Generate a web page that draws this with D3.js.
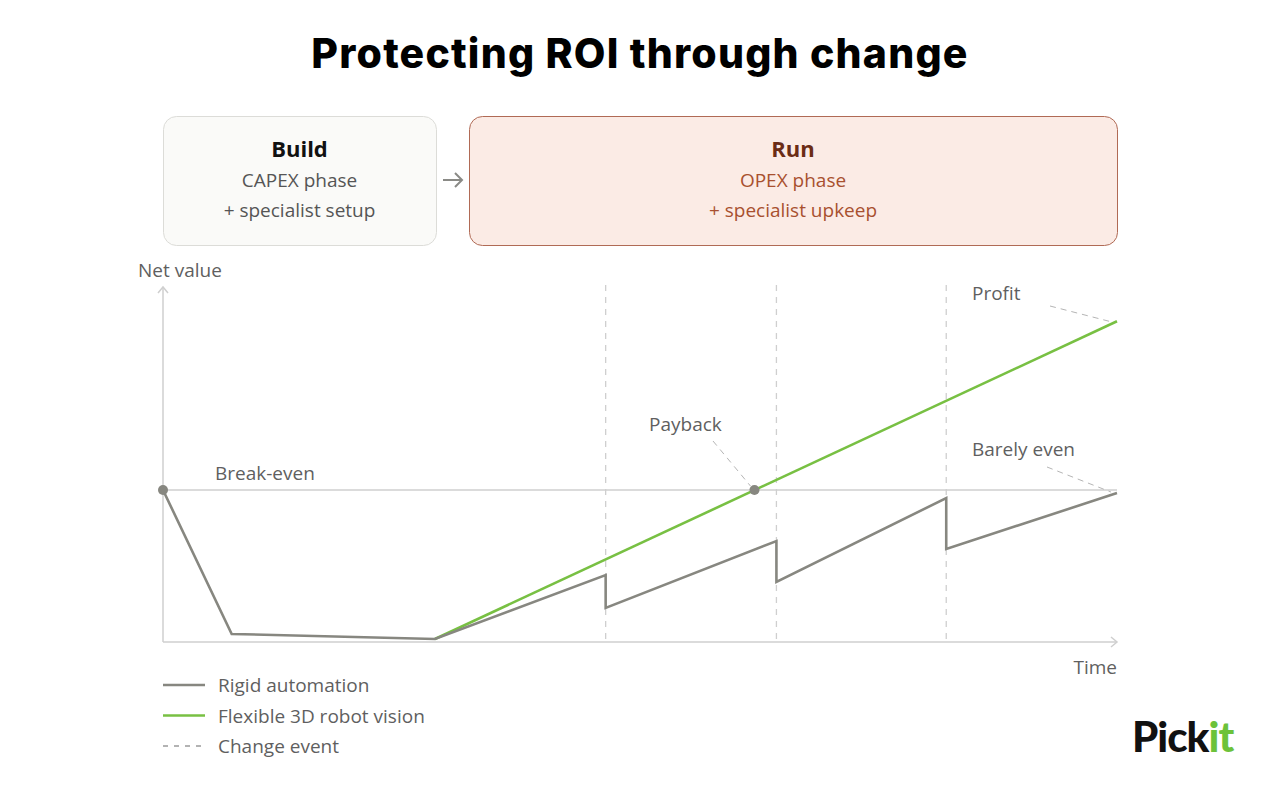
<!DOCTYPE html>
<html>
<head>
<meta charset="utf-8">
<script src="https://cdn.jsdelivr.net/npm/d3@7"></script>
<style>
  body { margin: 0; background: #fff; }
  svg { display: block; font-family: "Open Sans", "Noto Sans", sans-serif; }
</style>
</head>
<body>
<div id="chart"></div>
<script>
//********************* DATA ************************************

var rigidT = [0, 7.2, 28.5, 46.4, 46.4, 64.3, 64.3, 82.1, 82.1, 100];
var rigidV = [0, -94.7, -98, -56, -77.6, -33.6, -60.5, -5.3, -38.8, -2];
var flexT = [28.5, 100];
var flexV = [-98, 111];
var changeEvents = [46.4, 64.3, 82.1];
var paybackT = 62;
var legendLabels = ["Rigid automation", "Flexible 3D robot vision", "Change event"];

//********************* DIMENSIONS ************************************

var width = 1280, height = 790;
var plot = {left: 163, right: 1117, top: 287, bottom: 642};

var svg = d3.select("#chart").append("svg")
    .attr("width", width)
    .attr("height", height);

var x = d3.scaleLinear().domain([0, 100]).range([plot.left, plot.right]);
var y = d3.scaleLinear().domain([-100, 0]).range([plot.bottom, 490]);

var grey = "#878780", green = "#78c043", light = "#cfcfcf", txt = "#5f5f5f";

//********************* TITLE ************************************

svg.append("text")
    .attr("x", 640).attr("y", 68)
    .attr("text-anchor", "middle")
    .style("font-family", "Inter, Lato, sans-serif")
    .style("font-weight", 800)
    .style("font-size", "41px")
    .style("letter-spacing", "1.2px")
    .attr("fill", "#000")
    .text("Protecting ROI through change");

//********************* PHASE BOXES ************************************

var boxes = [
  {x0: 163, x1: 436, fill: "#fafaf8", stroke: "#dcdcd8", head: "Build", c1: "#111", c2: "#555",
   lines: ["CAPEX phase", "+ specialist setup"]},
  {x0: 469, x1: 1117, fill: "#fbebe5", stroke: "#b06a55", head: "Run", c1: "#6b2c15", c2: "#a8502f",
   lines: ["OPEX phase", "+ specialist upkeep"]}
];

boxes.forEach(function(b) {
  svg.append("rect")
      .attr("x", b.x0 + 0.5).attr("y", 116.5)
      .attr("width", b.x1 - b.x0).attr("height", 129)
      .attr("rx", 13)
      .attr("fill", b.fill)
      .attr("stroke", b.stroke)
      .attr("stroke-width", 1);
  var cx = (b.x0 + b.x1) / 2;
  svg.append("text")
      .attr("x", cx).attr("y", 157)
      .attr("text-anchor", "middle")
      .style("font-weight", 700).style("font-size", "22px")
      .attr("fill", b.c1)
      .text(b.head);
  b.lines.forEach(function(l, i) {
    svg.append("text")
        .attr("x", cx).attr("y", 187 + i * 30)
        .attr("text-anchor", "middle")
        .style("font-size", "19px")
        .attr("fill", b.c2)
        .text(l);
  });
});

// arrow between boxes
svg.append("path")
    .attr("d", "M443,180H462M455,173L462,180L455,187")
    .attr("fill", "none")
    .attr("stroke", "#8a8a86")
    .attr("stroke-width", 2);

//********************* AXES ************************************

svg.append("line")
    .attr("x1", plot.left).attr("x2", plot.left)
    .attr("y1", plot.bottom).attr("y2", plot.top)
    .attr("stroke", light).attr("stroke-width", 1.5);
svg.append("path")
    .attr("d", "M" + (plot.left - 5) + "," + (plot.top + 6) + "L" + plot.left + "," + plot.top + "L" + (plot.left + 5) + "," + (plot.top + 6))
    .attr("fill", "none").attr("stroke", light).attr("stroke-width", 1.5);

svg.append("line")
    .attr("x1", plot.left).attr("x2", plot.right)
    .attr("y1", plot.bottom).attr("y2", plot.bottom)
    .attr("stroke", light).attr("stroke-width", 1.5);
svg.append("path")
    .attr("d", "M" + (plot.right - 6) + "," + (plot.bottom - 5) + "L" + plot.right + "," + plot.bottom + "L" + (plot.right - 6) + "," + (plot.bottom + 5))
    .attr("fill", "none").attr("stroke", light).attr("stroke-width", 1.5);

// break-even line
svg.append("line")
    .attr("x1", plot.left).attr("x2", plot.right)
    .attr("y1", y(0)).attr("y2", y(0))
    .attr("stroke", light).attr("stroke-width", 1.5);

// change events
svg.selectAll(".event")
    .data(changeEvents)
  .enter().append("line")
    .attr("class", "event")
    .attr("x1", function(d) { return x(d); })
    .attr("x2", function(d) { return x(d); })
    .attr("y1", 285).attr("y2", plot.bottom)
    .attr("stroke", light).attr("stroke-width", 1.3)
    .attr("stroke-dasharray", "6,6");

svg.append("text")
    .attr("x", 138).attr("y", 277)
    .style("font-size", "19px").attr("fill", txt)
    .text("Net value");
svg.append("text")
    .attr("x", 1117).attr("y", 674)
    .attr("text-anchor", "end")
    .style("font-size", "19px").attr("fill", txt)
    .text("Time");

//********************* LINES ************************************

var valueline = d3.line()
    .x(function(d) { return x(d[0]); })
    .y(function(d) { return y(d[1]); });

svg.append("path")
    .datum(d3.zip(flexT, flexV))
    .attr("d", valueline)
    .attr("fill", "none")
    .attr("stroke", green)
    .attr("stroke-width", 2.6);

svg.append("path")
    .datum(d3.zip(rigidT, rigidV))
    .attr("d", valueline)
    .attr("fill", "none")
    .attr("stroke", grey)
    .attr("stroke-width", 2.6)
    .attr("stroke-linejoin", "miter");

// dots
svg.append("circle").attr("cx", x(0)).attr("cy", y(0)).attr("r", 5).attr("fill", grey);
svg.append("circle").attr("cx", x(paybackT)).attr("cy", y(0)).attr("r", 5).attr("fill", grey);

//********************* ANNOTATIONS ************************************

svg.append("text")
    .attr("x", 215).attr("y", 480)
    .style("font-size", "19px").attr("fill", txt)
    .text("Break-even");

var notes = [
  {label: "Payback", tx: 649, ty: 431, x1: 713, y1: 441, x2: x(paybackT) - 4, y2: y(0) - 4},
  {label: "Profit", tx: 972, ty: 300, x1: 1050, y1: 306, x2: x(100) - 4, y2: y(flexV[1]) + 1},
  {label: "Barely even", tx: 972, ty: 456, x1: 1047, y1: 467, x2: x(100) - 6, y2: y(rigidV[9]) - 1}
];

notes.forEach(function(n) {
  svg.append("text")
      .attr("x", n.tx).attr("y", n.ty)
      .style("font-size", "19px").attr("fill", txt)
      .text(n.label);
  svg.append("line")
      .attr("x1", n.x1).attr("y1", n.y1)
      .attr("x2", n.x2).attr("y2", n.y2)
      .attr("stroke", "#b5b5b5").attr("stroke-width", 1)
      .attr("stroke-dasharray", "6,5");
});

//********************* LEGEND ************************************

var legend = svg.selectAll(".legend")
    .data(legendLabels)
  .enter().append("g")
    .attr("class", "legend")
    .attr("transform", function(d, i) { return "translate(163," + (685 + i * 30.5) + ")"; });

legend.append("line")
    .attr("x1", 0).attr("x2", 42)
    .attr("stroke", function(d, i) { return i === 0 ? grey : i === 1 ? green : "#9a9a9a"; })
    .attr("stroke-width", function(d, i) { return i === 2 ? 1.3 : 2.6; })
    .attr("stroke-dasharray", function(d, i) { return i === 2 ? "5,6" : null; });

legend.append("text")
    .attr("x", 55).attr("y", 7)
    .style("font-size", "19px").attr("fill", txt)
    .text(function(d) { return d; });

//********************* LOGO ************************************

var logo = svg.append("text")
    .attr("x", 1132).attr("y", 752)
    .style("font-family", "Lato, Inter, sans-serif")
    .style("font-weight", 900)
    .style("font-size", "42px")
    .style("letter-spacing", "-1px");
logo.append("tspan").attr("fill", "#111").text("Pick");
logo.append("tspan").attr("fill", "#6cc23a").text("it");
</script>
</body>
</html>
